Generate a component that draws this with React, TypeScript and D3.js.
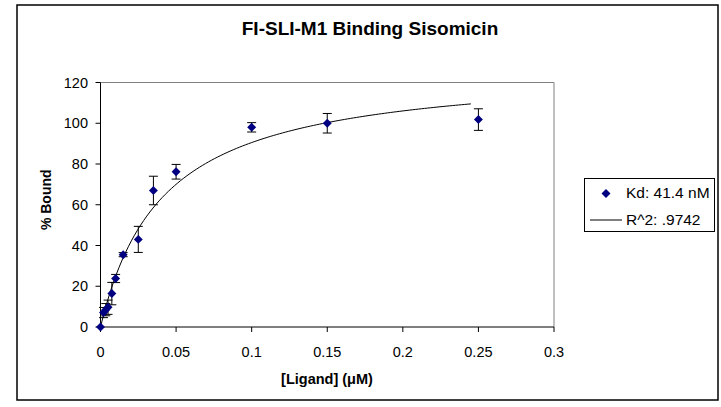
import React from "react";
import * as d3 from "d3";

const ligand = [0, 0.002, 0.0035, 0.005, 0.0075, 0.01, 0.015, 0.025, 0.035, 0.05, 0.1, 0.15, 0.25];
const bound = [0, 7.1, 8.5, 9.7, 16.4, 23.8, 35.5, 43, 67, 76.2, 98, 100, 101.8];
const errs = [0, 2.5, 3, 3.5, 5.5, 2, 1, 6.4, 7, 3.6, 2.3, 4.8, 5.3];
const xTicks = [0, 0.05, 0.1, 0.15, 0.2, 0.25, 0.3];
const yTicks = [0, 20, 40, 60, 80, 100, 120];
const KD = 0.0414;
const BMAX = 128;
const FIT_END = 0.245;
const FIT_STEPS = 120;

const FONT = "Arial, 'Liberation Sans', sans-serif";

const squareDiamond = {
  draw(context: any, size: number) {
    const r = Math.sqrt(size / 2);
    context.moveTo(0, -r);
    context.lineTo(r, 0);
    context.lineTo(0, r);
    context.lineTo(-r, 0);
    context.closePath();
  },
};

export default function App() {
  const left = 100.5, right = 554, top = 82.5, bottom = 327;
  const x = d3.scaleLinear().domain([0, 0.3]).range([left, right]);
  const y = d3.scaleLinear().domain([0, 120]).range([bottom, top]);

  const fitX = d3.range(FIT_STEPS + 1).map((i) => (FIT_END * i) / FIT_STEPS);
  const line = d3
    .line<number>()
    .x((d) => x(d))
    .y((d) => y((BMAX * d) / (KD + d)));

  const diamond = d3.symbol().type(squareDiamond as any).size(40)() as string;

  return (
    <svg
      width={721}
      height={407}
      style={{ position: "absolute", left: 0, top: 0, background: "#fff" }}
      fontFamily={FONT}
    >
      <rect x={17} y={5} width={701} height={395} fill="#fff" stroke="#000" strokeWidth={1.5} />
      <text x={370} y={35} textAnchor="middle" fontSize={19} fontWeight="bold">
        FI-SLI-M1 Binding Sisomicin
      </text>
      {/* plot frame */}
      <line x1={left} y1={top} x2={right} y2={top} stroke="#808080" strokeWidth={1} />
      <line x1={right} y1={top} x2={right} y2={bottom} stroke="#808080" strokeWidth={1} />
      {/* axes */}
      <line x1={left} y1={top} x2={left} y2={bottom} stroke="#000" strokeWidth={1} />
      <line x1={left} y1={bottom} x2={right} y2={bottom} stroke="#000" strokeWidth={1} />
      {yTicks.map((t) => (
        <g key={"y" + t}>
          <line x1={left - 5} x2={left} y1={y(t)} y2={y(t)} stroke="#000" />
          <text x={88} y={y(t) + 5} textAnchor="end" fontSize={14.5}>
            {t}
          </text>
        </g>
      ))}
      {xTicks.map((t) => (
        <g key={"x" + t}>
          <line x1={x(t)} x2={x(t)} y1={bottom} y2={bottom + 5} stroke="#000" />
          <text x={x(t)} y={357} textAnchor="middle" fontSize={14.5}>
            {t}
          </text>
        </g>
      ))}
      <text x={327} y={384} textAnchor="middle" fontSize={14.5} fontWeight="bold">
        [Ligand] (μM)
      </text>
      <text
        transform={`translate(51,${(top + bottom) / 2 - 5}) rotate(-90)`}
        textAnchor="middle"
        fontSize={14}
        fontWeight="bold"
      >
        % Bound
      </text>
      {/* fit */}
      <path d={line(fitX) as string} fill="none" stroke="#000" strokeWidth={1} />
      {/* error bars */}
      {ligand.map((lx, i) =>
        errs[i] > 0 ? (
          <g key={"e" + i} stroke="#000" strokeWidth={1}>
            <line x1={x(lx)} x2={x(lx)} y1={y(bound[i] + errs[i])} y2={y(bound[i] - errs[i])} />
            <line x1={x(lx) - 4.5} x2={x(lx) + 4.5} y1={y(bound[i] + errs[i])} y2={y(bound[i] + errs[i])} />
            <line x1={x(lx) - 4.5} x2={x(lx) + 4.5} y1={y(bound[i] - errs[i])} y2={y(bound[i] - errs[i])} />
          </g>
        ) : null
      )}
      {ligand.map((lx, i) => (
        <path key={"p" + i} d={diamond} transform={`translate(${x(lx)},${y(bound[i])})`} fill="#000080" />
      ))}
      {/* legend */}
      <rect x={584.5} y={178.5} width={130} height={53} fill="#fff" stroke="#000" strokeWidth={1} />
      <path d={diamond} transform="translate(606,193.5)" fill="#000080" />
      <text x={626} y={198} fontSize={15.5}>
        Kd: 41.4 nM
      </text>
      <line x1={590} x2={622} y1={220} y2={220} stroke="#000" strokeWidth={1} />
      <text x={626} y={225} fontSize={15.5}>
        R^2: .9742
      </text>
    </svg>
  );
}
